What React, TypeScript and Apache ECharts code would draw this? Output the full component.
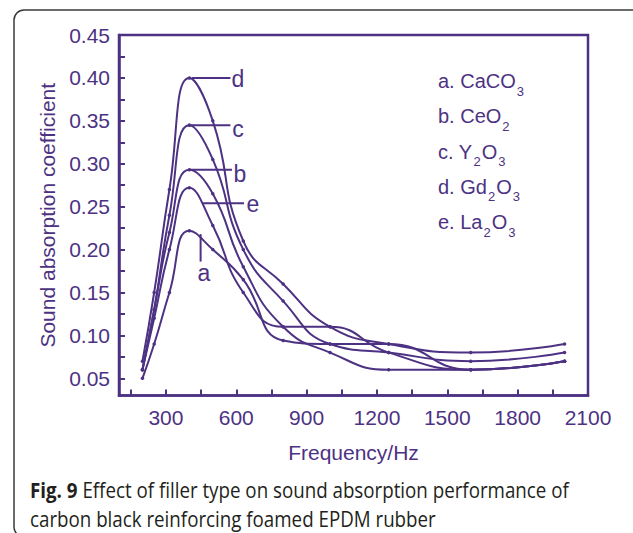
import { useEffect, useRef } from "react";
import * as echarts from "echarts";

// ---- data ----
const frequencyHz = [200, 250, 315, 400, 500, 630, 800, 1000, 1250, 1600, 2000];
const caco3 = [0.05, 0.09, 0.15, 0.222, 0.2, 0.165, 0.094, 0.09, 0.09, 0.06, 0.07]; // a
const ceo2 = [0.06, 0.13, 0.22, 0.293, 0.265, 0.18, 0.11, 0.08, 0.06, 0.06, 0.07]; // b
const y2o3 = [0.06, 0.13, 0.24, 0.345, 0.305, 0.2, 0.14, 0.09, 0.08, 0.07, 0.08]; // c
const gd2o3 = [0.07, 0.15, 0.27, 0.4, 0.35, 0.21, 0.16, 0.11, 0.09, 0.08, 0.09]; // d
const la2o3 = [0.06, 0.12, 0.2, 0.272, 0.228, 0.15, 0.11, 0.11, 0.08, 0.06, 0.07]; // e

const seriesKeys = ["a", "b", "c", "d", "e"];
const seriesValues = [caco3, ceo2, y2o3, gd2o3, la2o3];

const xTickLabels = [300, 600, 900, 1200, 1500, 1800, 2100];
const xTickMarks = [150, 300, 450, 600, 750, 900, 1050, 1200, 1350, 1500, 1650, 1800, 1950, 2100];
const yTickLabels = [0.05, 0.1, 0.15, 0.2, 0.25, 0.3, 0.35, 0.4, 0.45];
const yTickMarks = [0.05, 0.075, 0.1, 0.125, 0.15, 0.175, 0.2, 0.225, 0.25, 0.275, 0.3, 0.325, 0.35, 0.375, 0.4, 0.425, 0.45];

// legend text pieces: [text, isSubscript]
const legendItems: [string, boolean][][] = [
  [["a. CaCO", false], ["3", true]],
  [["b. CeO", false], ["2", true]],
  [["c. Y", false], ["2", true], ["O", false], ["3", true]],
  [["d. Gd", false], ["2", true], ["O", false], ["3", true]],
  [["e. La", false], ["2", true], ["O", false], ["3", true]],
];

// curve tags in data coordinates: leader line from -> to, label at text
const curveTags = [
  { label: "d", from: [410, 0.4], to: [575, 0.4], text: [607, 0.3985] },
  { label: "c", from: [405, 0.345], to: [575, 0.345], text: [607, 0.341] },
  { label: "b", from: [400, 0.293], to: [582, 0.293], text: [616, 0.2878] },
  { label: "e", from: [455, 0.254], to: [633, 0.254], text: [671, 0.253] },
  { label: "a", from: [448, 0.218], to: [448, 0.186], text: [462, 0.173] },
];

const xAxisTitle = "Frequency/Hz";
const yAxisTitle = "Sound absorption coefficient";
const captionBold = "Fig. 9";
const captionLine1 = "Effect of filler type on sound absorption performance of";
const captionLine2 = "carbon black reinforcing foamed EPDM rubber";

const PURPLE = "#4d3283";
const AXIS_FONT = '"Liberation Sans", Arial, sans-serif';
const CAPTION_FONT = '"Open Sans", sans-serif';

function measure(text: string, font: string): number {
  const c = document.createElement("canvas");
  const ctx = c.getContext("2d")!;
  ctx.font = font;
  return ctx.measureText(text).width;
}

export default function App() {
  const ref = useRef<HTMLDivElement>(null);

  useEffect(() => {
    const chart = echarts.init(ref.current!, null, { renderer: "svg" });

    const series = seriesValues.map((vals, i) => ({
      name: seriesKeys[i],
      type: "line",
      smooth: true,
      data: frequencyHz.map((f, j) => [f, vals[j]]),
      symbol: "circle",
      symbolSize: 3.5,
      itemStyle: { color: PURPLE },
      lineStyle: { color: PURPLE, width: 2 },
    }));

    chart.setOption({
      animation: false,
      backgroundColor: "#ffffff",
      grid: {
        left: 119,
        right: 45,
        top: 35,
        bottom: 137.5,
        show: true,
        borderColor: PURPLE,
        borderWidth: 2.5,
        backgroundColor: "transparent",
      },
      xAxis: {
        type: "value",
        min: 100,
        max: 2100,
        splitLine: { show: false },
        axisLine: { show: true, lineStyle: { color: PURPLE, width: 2.5 } },
        axisTick: {
          show: true,
          inside: true,
          length: 6,
          customValues: xTickMarks,
          lineStyle: { color: PURPLE, width: 2 },
        },
        axisLabel: {
          customValues: xTickLabels,
          formatter: (v: number) => String(v),
          color: PURPLE,
          fontSize: 21,
          fontFamily: AXIS_FONT,
          margin: 11,
        },
        name: xAxisTitle,
        nameLocation: "middle",
        nameGap: 46,
        nameTextStyle: { color: PURPLE, fontSize: 21, fontFamily: AXIS_FONT },
      },
      yAxis: {
        type: "value",
        min: 0.03,
        max: 0.45,
        splitLine: { show: false },
        axisLine: { show: true, lineStyle: { color: PURPLE, width: 2.5 } },
        axisTick: {
          show: true,
          inside: true,
          length: 6,
          customValues: yTickMarks,
          lineStyle: { color: PURPLE, width: 2 },
        },
        axisLabel: {
          customValues: yTickLabels,
          formatter: (v: number) => v.toFixed(2),
          color: PURPLE,
          fontSize: 21,
          fontFamily: AXIS_FONT,
          margin: 9,
        },
        name: yAxisTitle,
        nameLocation: "middle",
        nameGap: 60,
        nameTextStyle: { color: PURPLE, fontSize: 21, fontFamily: AXIS_FONT },
      },
      series,
    });

    const px = (p: number[]) => chart.convertToPixel({ gridIndex: 0 }, p) as number[];

    const graphics: any[] = [];

    // card border
    graphics.push({
      type: "rect",
      silent: true,
      shape: { x: 14, y: 10, width: 660, height: 527, r: 10 },
      style: { fill: "none", stroke: "#3a3a3a", lineWidth: 1.5 },
    });

    // curve tags
    curveTags.forEach((t, i) => {
      const a = px(t.from);
      const b = px(t.to);
      const c = px(t.text);
      graphics.push({
        type: "line",
        id: "tagline" + i,
        shape: { x1: a[0], y1: a[1], x2: b[0], y2: b[1] },
        style: { stroke: PURPLE, lineWidth: 2 },
      });
      graphics.push({
        type: "text",
        id: "tagtext" + i,
        x: c[0],
        y: c[1],
        style: {
          text: t.label,
          fill: PURPLE,
          fontSize: 23,
          fontFamily: AXIS_FONT,
          align: "center",
          verticalAlign: "middle",
        },
      });
    });

    // legend entries (text with subscripts)
    const mainFont = `20px ${AXIS_FONT}`;
    const subFont = `13px ${AXIS_FONT}`;
    legendItems.forEach((parts, i) => {
      let x = 438;
      const y = 81 + i * 35.3;
      parts.forEach(([txt, sub], k) => {
        graphics.push({
          type: "text",
          id: `leg${i}_${k}`,
          x: x + (sub ? 1 : 0),
          y: sub ? y + 10 : y,
          style: {
            text: txt,
            fill: PURPLE,
            fontSize: sub ? 13 : 20,
            fontFamily: AXIS_FONT,
            align: "left",
            verticalAlign: "middle",
          },
        });
        x += measure(txt, sub ? subFont : mainFont) + (sub ? 2 : 0);
      });
    });

    // caption
    const CAP = 21;
    const boldFont = `bold ${CAP}px ${CAPTION_FONT}`;
    const regFont = `${CAP}px ${CAPTION_FONT}`;
    const wBold = measure(captionBold + " ", boldFont);
    const wLine1 = wBold + measure(captionLine1, regFont);
    const scale = 539 / wLine1;
    graphics.push({
      type: "group",
      x: 30,
      y: 490,
      scaleX: scale,
      children: [
        {
          type: "text",
          x: 0,
          y: 0,
          style: {
            text: captionBold,
            fill: "#231f20",
            fontSize: CAP,
            fontWeight: "bold",
            fontFamily: CAPTION_FONT,
            verticalAlign: "middle",
          },
        },
        {
          type: "text",
          x: wBold,
          y: 0,
          style: {
            text: captionLine1,
            fill: "#231f20",
            fontSize: CAP,
            fontFamily: CAPTION_FONT,
            verticalAlign: "middle",
          },
        },
        {
          type: "text",
          x: 0,
          y: 29,
          style: {
            text: captionLine2,
            fill: "#231f20",
            fontSize: CAP,
            fontFamily: CAPTION_FONT,
            verticalAlign: "middle",
          },
        },
      ],
    });

    chart.setOption({ graphic: graphics });

    return () => chart.dispose();
  }, []);

  return (
    <div
      ref={ref}
      style={{ position: "fixed", left: 0, top: 0, width: 633, height: 533, background: "#fff" }}
    />
  );
}
